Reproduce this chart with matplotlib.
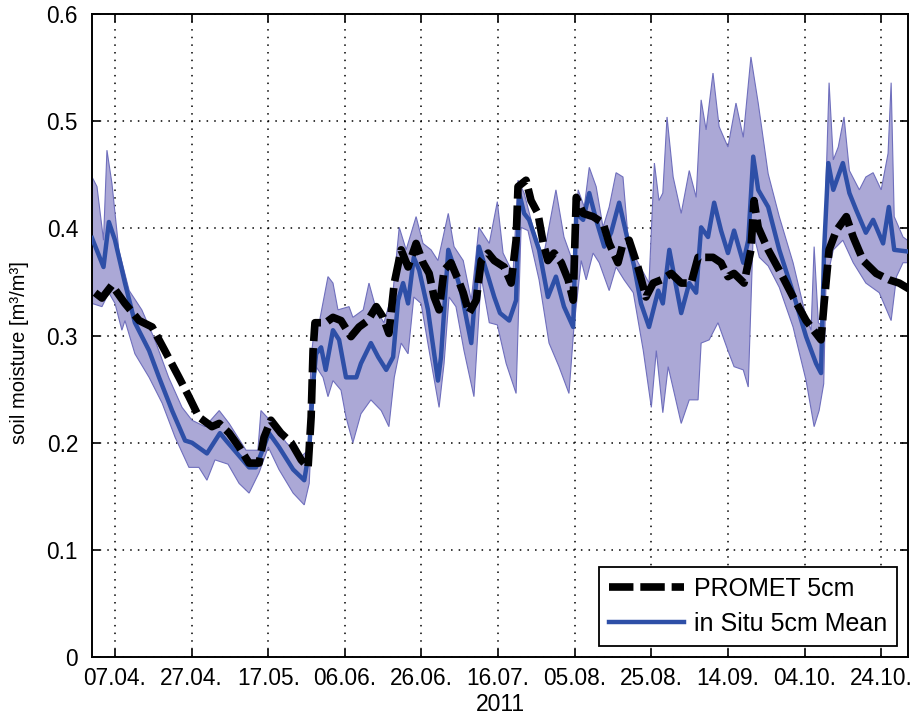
import datetime as dt

import matplotlib
import numpy as np

matplotlib.use("Agg")
import matplotlib.dates as mdates
import matplotlib.pyplot as plt
from matplotlib.ticker import FuncFormatter

# day offsets counted from 01.04.2011
START = dt.datetime(2011, 4, 1)
END = dt.datetime(2011, 10, 31)

promet_day = [0.8, 2.6, 5.2, 8.6, 12.3, 15.7, 19, 22.7, 25.3, 27.9, 31.3, 33.2, 35.8, 38.4,
              41, 43.6, 44.9, 46.7, 49.3, 52, 54.6, 56.4, 57.2, 57.7, 58.2, 61, 62.9, 65,
              67.6, 69.7, 72, 74.2, 76, 77.5, 78.9, 80.7, 82.5, 84.6, 86.4, 88, 89.3, 90.6,
              91.9, 93.7, 95.6, 96.9, 98.4, 100.3, 101.6, 103.4, 105, 107.6, 109.4, 110.7,
              111.2, 113.3, 114.6, 116.4, 117.8, 119, 120.6, 122.5, 124.3, 125.6, 126.4,
              128.2, 130.8, 133.4, 135, 137.3, 138.6, 140.2, 142.5, 144.6, 146.5, 148.6,
              151.2, 153.8, 156.4, 158.2, 159.8, 162.1, 164.2, 166, 167.6, 170.2, 172,
              172.8, 173.9, 176.5, 179.4, 183, 186.4, 189, 190.3, 191.1, 192.4, 194.3,
              196.9, 198.7, 201.3, 204.7, 208.1, 210.7, 214]
promet_val = [0.340, 0.335, 0.347, 0.330, 0.314, 0.308, 0.286, 0.261, 0.243, 0.224, 0.215,
              0.218, 0.209, 0.196, 0.181, 0.181, 0.205, 0.221, 0.209, 0.200, 0.184, 0.177,
              0.224, 0.286, 0.312, 0.312, 0.317, 0.314, 0.299, 0.308, 0.314, 0.327, 0.317,
              0.302, 0.349, 0.380, 0.364, 0.386, 0.368, 0.358, 0.336, 0.324, 0.361, 0.368,
              0.352, 0.340, 0.321, 0.333, 0.370, 0.377, 0.370, 0.364, 0.349, 0.389, 0.439,
              0.445, 0.426, 0.414, 0.386, 0.370, 0.377, 0.368, 0.352, 0.333, 0.429, 0.414,
              0.411, 0.405, 0.386, 0.368, 0.386, 0.389, 0.364, 0.336, 0.349, 0.352, 0.358,
              0.349, 0.349, 0.373, 0.373, 0.373, 0.368, 0.355, 0.358, 0.349, 0.380, 0.426,
              0.401, 0.380, 0.361, 0.336, 0.314, 0.302, 0.296, 0.330, 0.380, 0.398, 0.411,
              0.392, 0.370, 0.358, 0.352, 0.349, 0.342]

mean_day = [0, 3, 4.4, 6, 8.6, 11.2, 14.9, 17.5, 20.9, 24.3, 26.1, 30, 33.4, 35, 41, 42.8,
            46.2, 48.8, 52.5, 55.4, 56.7, 57.7, 58.5, 59.8, 61, 62.9, 64.5, 66.3, 69, 70.2,
            72.8, 74.7, 76.8, 78.6, 79.9, 81.2, 82.5, 84, 85.4, 87.7, 90.3, 91.1, 93, 94.5,
            96.3, 99, 101, 103.4, 105, 106.5, 108.9, 110.7, 111.5, 112.8, 114.1, 116.7, 119,
            121.1, 123.2, 125.6, 126.4, 128.2, 129.8, 131.6, 133.7, 135.5, 137.6, 139.4,
            141.5, 143.3, 145.4, 147.8, 149, 150.7, 152, 153.8, 155.9, 157.7, 159, 160.8,
            162.4, 164.2, 166, 167.6, 170, 171.3, 172.6, 173.9, 176.5, 179.4, 183, 186.4,
            189, 190.3, 191.1, 192.2, 193.5, 196, 197.7, 199.5, 202, 203.9, 206.5, 208,
            209.4, 214]
mean_val = [0.391, 0.364, 0.406, 0.389, 0.349, 0.312, 0.286, 0.261, 0.230, 0.202, 0.200,
            0.190, 0.209, 0.202, 0.177, 0.177, 0.209, 0.196, 0.175, 0.165, 0.193, 0.255,
            0.283, 0.289, 0.268, 0.305, 0.296, 0.261, 0.261, 0.274, 0.293, 0.280, 0.268,
            0.280, 0.333, 0.349, 0.330, 0.373, 0.361, 0.324, 0.258, 0.280, 0.380, 0.364,
            0.342, 0.293, 0.383, 0.355, 0.336, 0.321, 0.314, 0.333, 0.433, 0.414, 0.408,
            0.380, 0.336, 0.355, 0.327, 0.308, 0.414, 0.408, 0.433, 0.408, 0.383, 0.396,
            0.424, 0.396, 0.365, 0.330, 0.308, 0.342, 0.330, 0.380, 0.355, 0.321, 0.349,
            0.340, 0.401, 0.392, 0.424, 0.398, 0.377, 0.398, 0.368, 0.389, 0.467, 0.436,
            0.420, 0.380, 0.340, 0.299, 0.274, 0.265, 0.380, 0.461, 0.436, 0.461, 0.433,
            0.417, 0.396, 0.408, 0.386, 0.420, 0.380, 0.378]

upper_day = [0, 1.3, 3, 3.9, 5.2, 7, 9.7, 13, 16.4, 20, 23.5, 26.1, 29.5, 33.2, 35.8, 40.2,
             43.3, 44.1, 47.2, 50.7, 54.6, 56.4, 57.2, 58, 59.3, 61.6, 62.9, 64.2, 67.1,
             68.1, 70.8, 72.3, 74.2, 76.2, 78.6, 80.2, 82, 84.6, 86.4, 88.5, 90.3, 93, 94.5,
             96.9, 99, 101, 103.7, 105.8, 107.3, 109.9, 111.2, 112.8, 115.1, 117.8, 121.1,
             123.2, 125.6, 126.9, 128.5, 129.8, 131.6, 133.4, 135, 136.8, 138.6, 140.2,
             141.5, 145.4, 146.8, 148, 149, 150.1, 151.7, 153.8, 155.9, 157.7, 159, 160.3,
             162.1, 163.7, 166, 168.1, 170, 172, 173.9, 176.5, 179.4, 183, 186.4, 187.7,
             188.5, 189.6, 190.9, 191.6, 192.4, 193.5, 194.8, 196.3, 197.7, 200.3, 202,
             203.9, 206, 207.8, 208.6, 209.4, 211.7, 214]
upper_val = [0.448, 0.439, 0.389, 0.473, 0.442, 0.380, 0.342, 0.324, 0.296, 0.261, 0.233,
             0.221, 0.215, 0.230, 0.218, 0.193, 0.193, 0.230, 0.218, 0.200, 0.187, 0.193,
             0.280, 0.305, 0.312, 0.355, 0.349, 0.324, 0.327, 0.317, 0.324, 0.349, 0.324,
             0.312, 0.342, 0.401, 0.380, 0.411, 0.386, 0.380, 0.370, 0.414, 0.383, 0.370,
             0.333, 0.401, 0.386, 0.425, 0.377, 0.358, 0.445, 0.433, 0.401, 0.373, 0.436,
             0.392, 0.368, 0.436, 0.420, 0.457, 0.439, 0.401, 0.420, 0.452, 0.448, 0.380,
             0.375, 0.349, 0.461, 0.426, 0.433, 0.504, 0.448, 0.414, 0.454, 0.429, 0.520,
             0.492, 0.545, 0.495, 0.476, 0.517, 0.485, 0.560, 0.517, 0.451, 0.411, 0.368,
             0.317, 0.305, 0.383, 0.312, 0.308, 0.442, 0.536, 0.464, 0.476, 0.504, 0.454,
             0.436, 0.448, 0.452, 0.436, 0.470, 0.536, 0.411, 0.392, 0.386]

lower_day = [0, 2.6, 4.4, 6, 7.8, 8.6, 11.2, 14.9, 18.3, 21.7, 25.3, 27.9, 30, 32.1, 35.5,
             38.4, 41, 43.6, 46, 48.8, 52.5, 55.4, 56.7, 57.7, 58.5, 60.3, 61.6, 62.9, 65,
             66.3, 68.1, 70.2, 72.8, 75.5, 77.5, 78.9, 80.7, 82.5, 84, 85.9, 88, 90.6, 91.9,
             93.2, 95, 97.1, 99.7, 101.6, 103.7, 105.8, 108.1, 110.7, 112, 113.8, 116.7,
             119.3, 121.9, 124.5, 125.8, 127.7, 129, 130.8, 132.4, 135, 136.8, 138.9, 141.3,
             143.9, 146, 147.3, 149, 150.4, 153.8, 155.9, 158.2, 159, 161.1, 163.4, 166,
             167.6, 170, 171.3, 172.6, 174.2, 176.5, 179.4, 183, 186.4, 188.5, 189.8, 191,
             191.6, 193.5, 196, 198.7, 202, 205.5, 208.6, 210, 211.7, 214]
lower_val = [0.330, 0.327, 0.340, 0.330, 0.305, 0.314, 0.283, 0.261, 0.237, 0.205, 0.177,
             0.177, 0.165, 0.184, 0.180, 0.162, 0.153, 0.172, 0.196, 0.175, 0.153, 0.142,
             0.162, 0.240, 0.271, 0.261, 0.243, 0.258, 0.249, 0.224, 0.200, 0.227, 0.240,
             0.230, 0.215, 0.261, 0.293, 0.283, 0.336, 0.330, 0.286, 0.233, 0.274, 0.336,
             0.327, 0.286, 0.243, 0.355, 0.312, 0.310, 0.274, 0.246, 0.401, 0.398, 0.352,
             0.293, 0.271, 0.246, 0.308, 0.370, 0.352, 0.377, 0.368, 0.342, 0.364, 0.352,
             0.340, 0.286, 0.233, 0.286, 0.228, 0.271, 0.218, 0.240, 0.240, 0.293, 0.296,
             0.312, 0.286, 0.271, 0.268, 0.252, 0.396, 0.373, 0.365, 0.345, 0.308, 0.258,
             0.215, 0.230, 0.255, 0.349, 0.380, 0.389, 0.368, 0.349, 0.340, 0.314, 0.355,
             0.368, 0.368]

tick_dates = [START + dt.timedelta(days=6 + 20 * i) for i in range(11)]
y_ticks = [0, 0.1, 0.2, 0.3, 0.4, 0.5, 0.6]

FONT = ["Liberation Sans", "DejaVu Sans"]


def to_num(days):
    return mdates.date2num(START) + np.asarray(days, float)


fig = plt.figure(figsize=(9.11, 7.24), dpi=100)
ax = fig.add_axes([0.101, 0.0925, 0.8957, 0.888])

band_x = np.concatenate([to_num(upper_day), to_num(lower_day)[::-1]])
band_y = np.concatenate([upper_val, lower_val[::-1]])
ax.fill(band_x, band_y, facecolor="#aba8d6", edgecolor="#6f6fbd", lw=0.8, zorder=2)

ax.plot(to_num(mean_day), mean_val, color="#2e4fa7", lw=3.2, zorder=3,
        label="in Situ 5cm Mean")
ax.plot(to_num(promet_day), promet_val, color="black", lw=5.5, dashes=(3.2, 0.9),
        solid_capstyle="butt", dash_capstyle="butt", zorder=4, label="PROMET 5cm")

ax.set_xlim(mdates.date2num(START), mdates.date2num(END))
ax.set_ylim(0, 0.6)
ax.set_xticks(mdates.date2num(tick_dates))
ax.xaxis.set_major_formatter(mdates.DateFormatter("%d.%m."))
ax.set_yticks(y_ticks)
ax.yaxis.set_major_formatter(FuncFormatter(lambda v, _: f"{v:g}"))

ax.grid(True, color="black", ls=(0, (1, 4)), lw=1.1)
ax.tick_params(direction="in", length=6, width=1.2, top=True, right=True)
ax.tick_params(axis="x", pad=7)
ax.tick_params(axis="y", pad=10)
for lab in ax.get_xticklabels() + ax.get_yticklabels():
    lab.set_family(FONT)
    lab.set_fontsize(16.3)
for sp in ax.spines.values():
    sp.set_linewidth(1.4)

ax.set_xlabel("2011", family=FONT, fontsize=16.5, labelpad=2)
ax.set_ylabel("soil moisture [m³/m³]", family=FONT, fontsize=14.5)
ax.yaxis.set_label_coords(-0.077, 0.473)

handles, labels = ax.get_legend_handles_labels()
leg = ax.legend(handles[::-1], labels[::-1], loc="lower right",
                bbox_to_anchor=(0.987, 0.017), borderaxespad=0, fancybox=False,
                framealpha=1, edgecolor="black", handlelength=3.0, handletextpad=0.4,
                labelspacing=0.45, prop={"family": FONT, "size": 18})
leg.get_frame().set_linewidth(1.3)

fig.savefig("out.png", dpi=100)
